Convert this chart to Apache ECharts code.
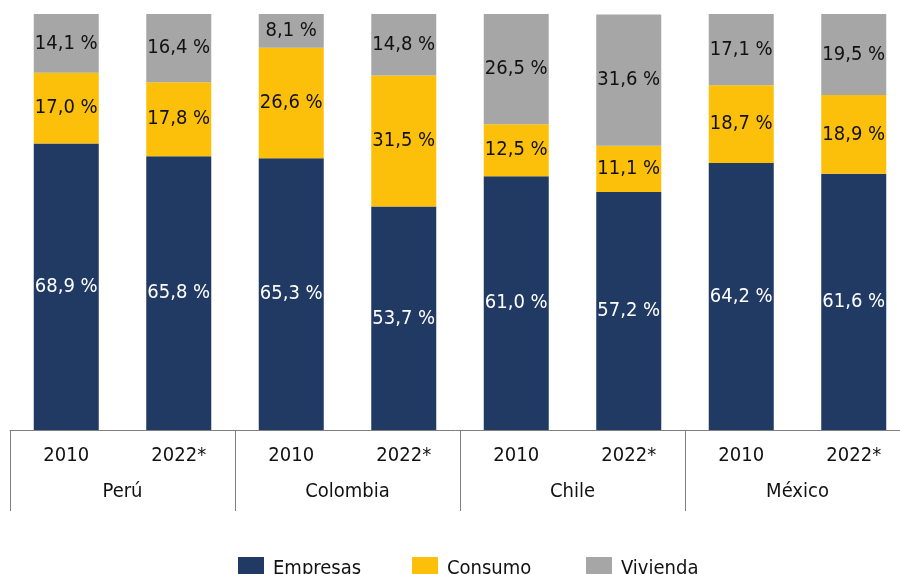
<!DOCTYPE html>
<html>
<head>
<meta charset="utf-8">
<script src="https://cdn.jsdelivr.net/npm/echarts@6/dist/echarts.min.js"></script>
<style>
  html, body { margin: 0; padding: 0; background: #fff; }
  #chart { width: 900px; height: 574px; }
</style>
</head>
<body>
<div id="chart"></div>
<script>
const years = ["2010", "2022*", "2010", "2022*", "2010", "2022*", "2010", "2022*"];
const countries = ["Perú", "Colombia", "Chile", "México"];
const empresas = [68.9, 65.8, 65.3, 53.7, 61.0, 57.2, 64.2, 61.6];
const consumo = [17.0, 17.8, 26.6, 31.5, 12.5, 11.1, 18.7, 18.9];
const vivienda = [14.1, 16.4, 8.1, 14.8, 26.5, 31.6, 17.1, 19.5];

const FONT = "'Liberation Sans Narrow', 'Arial Narrow', 'DejaVu Sans Condensed', sans-serif";
const FS = 20;

const chart = echarts.init(document.getElementById("chart"));

function fmtPct(p) {
  return p.value.toFixed(1).replace(".", ",") + " %";
}

function barSeries(name, values, color, textColor) {
  return {
    name,
    type: "bar",
    stack: "total",
    data: values,
    barWidth: 65,
    itemStyle: { color },
    label: {
      show: true,
      position: "inside",
      formatter: fmtPct,
      color: textColor,
      fontFamily: FONT,
      fontSize: FS,
    },
  };
}

const legendItem = (name, left) => ({
  data: [name],
  left,
  top: 552,
  itemWidth: 26,
  itemHeight: 24,
  icon: "rect",
  textStyle: { fontFamily: FONT, fontSize: FS, color: "#111", padding: [0, 0, 0, 4] },
  selectedMode: false,
});

chart.setOption({
  animation: false,
  textStyle: { fontFamily: FONT },
  grid: { left: 10, width: 900, top: 14, bottom: 144, outerBoundsMode: "none", containLabel: false },
  legend: [
    legendItem("Empresas", 233),
    legendItem("Consumo", 407),
    legendItem("Vivienda", 581),
  ],
  xAxis: [
    {
      type: "category",
      data: years,
      position: "bottom",
      axisLine: { show: true, lineStyle: { color: "#7f7f7f", width: 1 } },
      axisTick: { show: false },
      axisLabel: { color: "#111", fontSize: FS, fontFamily: FONT, margin: 16 },
    },
    {
      type: "category",
      data: countries,
      position: "bottom",
      axisLine: { show: false },
      axisTick: { show: true, length: 81, lineStyle: { color: "#7f7f7f" } },
      axisLabel: { color: "#111", fontSize: FS, fontFamily: FONT, margin: 52 },
    },
  ],
  yAxis: {
    type: "value",
    min: 0,
    max: 100,
    show: false,
  },
  series: [
    barSeries("Empresas", empresas, "#203a63", "#fff"),
    barSeries("Consumo", consumo, "#fcc00b", "#111"),
    barSeries("Vivienda", vivienda, "#a6a6a6", "#111"),
  ],
});
</script>
</body>
</html>
